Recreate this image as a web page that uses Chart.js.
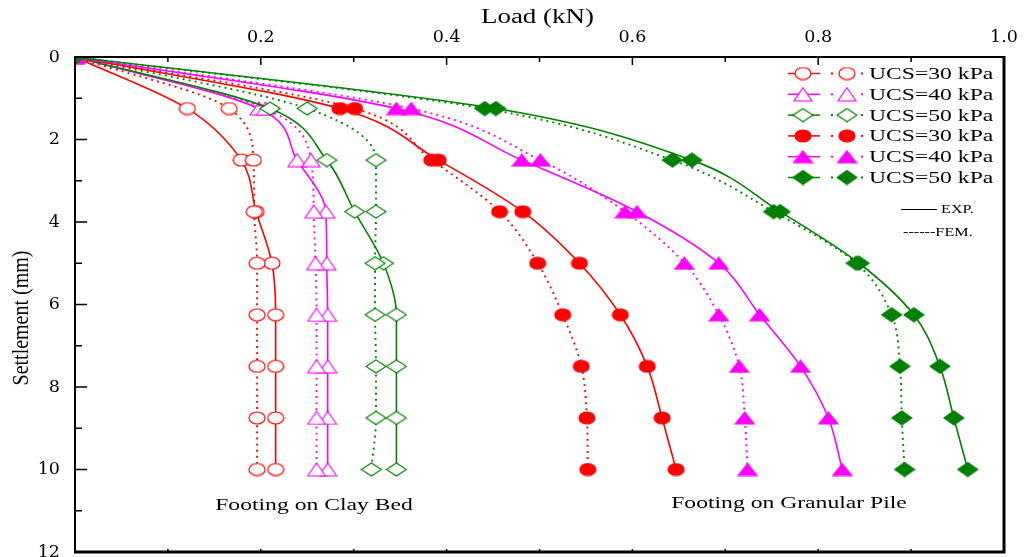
<!DOCTYPE html>
<html>
<head>
<meta charset="utf-8">
<script src="https://cdn.jsdelivr.net/npm/chart.js@4.4.1/dist/chart.umd.min.js"></script>
<style>
  html, body { margin: 0; padding: 0; background: #fff; }
  canvas { display: block; }
</style>
</head>
<body>
<canvas id="grafico" width="1027" height="557"></canvas>
<script>
// settlement levels (mm) where load was read
const settlement = [0, 1.25, 2.5, 3.75, 5, 6.25, 7.5, 8.75, 10];

// load (kN) - footing on clay bed
const clay30Exp = [0, 0.121, 0.179, 0.195, 0.212, 0.216, 0.216, 0.216, 0.216];
const clay30Fem = [0, 0.166, 0.192, 0.193, 0.196, 0.196, 0.196, 0.196, 0.196];
const clay40Exp = [0, 0.198, 0.239, 0.27, 0.271, 0.272, 0.272, 0.272, 0.272];
const clay40Fem = [0, 0.205, 0.254, 0.257, 0.259, 0.26, 0.26, 0.26, 0.26];
const clay50Exp = [0, 0.21, 0.271, 0.301, 0.332, 0.346, 0.346, 0.346, 0.346];
const clay50Fem = [0, 0.25, 0.324, 0.324, 0.323, 0.323, 0.324, 0.324, 0.319];

// load (kN) - footing on granular pile
const pile30Exp = [0, 0.285, 0.391, 0.482, 0.543, 0.587, 0.616, 0.632, 0.647];
const pile30Fem = [0, 0.301, 0.384, 0.457, 0.498, 0.525, 0.545, 0.551, 0.552];
const pile40Exp = [0, 0.346, 0.481, 0.605, 0.693, 0.737, 0.781, 0.811, 0.826];
const pile40Fem = [0, 0.362, 0.501, 0.592, 0.656, 0.693, 0.715, 0.721, 0.724];
const pile50Exp = [0, 0.453, 0.664, 0.759, 0.844, 0.903, 0.931, 0.946, 0.961];
const pile50Fem = [0, 0.441, 0.643, 0.752, 0.841, 0.879, 0.888, 0.89, 0.893];

const loadTicks = [0.2, 0.4, 0.6, 0.8, 1.0];
const settlementTicks = [0, 2, 4, 6, 8, 10, 12];
const legendLabels = ["UCS=30 kPa", "UCS=40 kPa", "UCS=50 kPa", "UCS=30 kPa", "UCS=40 kPa", "UCS=50 kPa"];
const bedLabels = ["Footing on Clay Bed", "Footing on Granular Pile"];

const VERMELHO = "#ff0000";
const MAGENTA = "#ff00ff";
const VERDE = "#008000";
const ESTICA = 1.35; // the original text is wider than plain Times

function criarMarcador(forma, cor, cheio, w, h) {
  const c = document.createElement("canvas");
  c.width = w + 2;
  c.height = h + 2;
  const g = c.getContext("2d");
  const cx = c.width / 2;
  const cy = c.height / 2;
  g.beginPath();
  if (forma === "circle") {
    g.ellipse(cx, cy, w / 2, h / 2, 0, 0, Math.PI * 2);
  } else if (forma === "triangle") {
    g.moveTo(cx, cy - h / 2);
    g.lineTo(cx + w / 2, cy + h / 2);
    g.lineTo(cx - w / 2, cy + h / 2);
    g.closePath();
  } else {
    g.moveTo(cx, cy - h / 2);
    g.lineTo(cx + w / 2, cy);
    g.lineTo(cx, cy + h / 2);
    g.lineTo(cx - w / 2, cy);
    g.closePath();
  }
  g.fillStyle = cheio ? cor : "#fff";
  g.fill();
  g.lineWidth = 1.2;
  g.strokeStyle = cor;
  g.stroke();
  return c;
}

const grupos = [
  { exp: clay30Exp, fem: clay30Fem, cor: VERMELHO, marcador: criarMarcador("circle", VERMELHO, false, 16, 12) },
  { exp: clay40Exp, fem: clay40Fem, cor: MAGENTA, marcador: criarMarcador("triangle", MAGENTA, false, 18, 13) },
  { exp: clay50Exp, fem: clay50Fem, cor: VERDE, marcador: criarMarcador("diamond", VERDE, false, 20, 13) },
  { exp: pile30Exp, fem: pile30Fem, cor: VERMELHO, marcador: criarMarcador("circle", VERMELHO, true, 16, 12) },
  { exp: pile40Exp, fem: pile40Fem, cor: MAGENTA, marcador: criarMarcador("triangle", MAGENTA, true, 19, 12) },
  { exp: pile50Exp, fem: pile50Fem, cor: VERDE, marcador: criarMarcador("diamond", VERDE, true, 20, 14) },
];

const datasets = [];
grupos.forEach((g, i) => {
  [["EXP.", g.exp], ["FEM.", g.fem]].forEach(([tipo, valores]) => {
    const fem = tipo === "FEM.";
    datasets.push({
      label: legendLabels[i] + " " + tipo,
      data: valores.map((v, k) => ({ x: v, y: settlement[k] })),
      borderColor: g.cor,
      backgroundColor: g.cor,
      borderWidth: fem ? 1.9 : 1.6,
      borderDash: fem ? [1.9, 4.2] : [],
      cubicInterpolationMode: "monotone",
      pointStyle: g.marcador,
      pointRadius: 8,
      pointHoverRadius: 8,
      fill: false,
      order: 20 - datasets.length, // later series drawn on top
    });
  });
});

function textoEsticado(ctx, txt, x, y, tamanho, alinhamento, base) {
  ctx.save();
  ctx.translate(x, y);
  ctx.scale(ESTICA, 1);
  ctx.font = tamanho + "px 'Liberation Serif', serif";
  ctx.fillStyle = "#000";
  ctx.textAlign = alinhamento;
  ctx.textBaseline = base;
  ctx.fillText(txt, 0, 0);
  ctx.restore();
}

const moldura = {
  id: "moldura",
  afterDraw(chart) {
    const ctx = chart.ctx;
    const a = chart.chartArea;
    const sx = chart.scales.x;
    const sy = chart.scales.y;

    ctx.save();
    ctx.strokeStyle = "#000";
    ctx.lineCap = "butt";

    // frame
    ctx.lineWidth = 2;
    ctx.beginPath();
    ctx.moveTo(a.left, a.bottom + 1);
    ctx.lineTo(a.left, a.top);
    ctx.lineTo(a.right, a.top);
    ctx.stroke();
    ctx.lineWidth = 3;
    ctx.beginPath();
    ctx.moveTo(a.right, a.top - 1);
    ctx.lineTo(a.right, a.bottom);
    ctx.lineTo(a.left - 1, a.bottom);
    ctx.stroke();

    // inward ticks
    ctx.lineWidth = 1.5;
    ctx.beginPath();
    sx.ticks.forEach((t) => {
      if (t.value <= 0 || t.value >= 1) return;
      const px = sx.getPixelForValue(t.value);
      const maior = loadTicks.some((v) => Math.abs(v - t.value) < 1e-6);
      ctx.moveTo(px, a.top);
      ctx.lineTo(px, a.top + (maior ? 8 : 5));
      ctx.moveTo(px, a.bottom);
      ctx.lineTo(px, a.bottom - 3);
    });
    sy.ticks.forEach((t) => {
      if (t.value <= 0 || t.value >= 12) return;
      const py = sy.getPixelForValue(t.value);
      const maior = settlementTicks.includes(t.value);
      ctx.moveTo(a.left, py);
      ctx.lineTo(a.left + (maior ? 12 : 7), py);
    });
    ctx.stroke();

    // axis titles
    textoEsticado(ctx, "Load (kN)", (a.left + a.right) / 2 - 2, 23, 20, "center", "alphabetic");
    ctx.save();
    ctx.translate(22, 318);
    ctx.scale(1.2, 1);
    ctx.rotate(-Math.PI / 2);
    ctx.font = "20px 'Liberation Serif', serif";
    ctx.fillStyle = "#000";
    ctx.textAlign = "center";
    ctx.textBaseline = "middle";
    ctx.fillText("Settlement (mm)", 0, 0);
    ctx.restore();

    // legend
    grupos.forEach((g, i) => {
      const y = 73.5 + i * 20.8;
      ctx.strokeStyle = g.cor;
      ctx.lineWidth = 1.5;
      ctx.setLineDash([]);
      ctx.beginPath();
      ctx.moveTo(788, y);
      ctx.lineTo(820, y);
      ctx.stroke();
      ctx.drawImage(g.marcador, 803 - g.marcador.width / 2, y - g.marcador.height / 2);
      ctx.fillStyle = g.cor;
      ctx.fillRect(831, y - 1, 2, 2);
      ctx.fillRect(861, y - 1, 2, 2);
      ctx.drawImage(g.marcador, 847 - g.marcador.width / 2, y - g.marcador.height / 2);
      textoEsticado(ctx, legendLabels[i], 869, y + 1, 17.5, "left", "middle");
    });
    ctx.strokeStyle = "#000";
    ctx.lineWidth = 1;
    ctx.beginPath();
    ctx.moveTo(901, 209.5);
    ctx.lineTo(937, 209.5);
    ctx.stroke();
    textoEsticado(ctx, "EXP.", 941, 210, 12, "left", "middle");
    textoEsticado(ctx, "------FEM.", 903, 233, 12, "left", "middle");

    // bed labels
    textoEsticado(ctx, bedLabels[0], 314, 510, 17.5, "center", "alphabetic");
    textoEsticado(ctx, bedLabels[1], 789, 507.5, 17.5, "center", "alphabetic");
    ctx.restore();
  },
};

Chart.defaults.font.family = "'DejaVu Serif', serif";
Chart.defaults.color = "#000";

function semSobra(s) {
  s.paddingTop = 0;
  s.paddingBottom = 0;
  s.paddingLeft = 0;
  s.paddingRight = 0;
}

const ctx = document.getElementById("grafico").getContext("2d");
new Chart(ctx, {
  type: "line",
  data: { datasets },
  options: {
    indexAxis: "y",
    responsive: false,
    animation: false,
    events: [],
    layout: { autoPadding: false, padding: { left: 0, top: 0, right: 23, bottom: 5 } },
    plugins: {
      legend: { display: false },
      tooltip: { enabled: false },
    },
    scales: {
      x: {
        type: "linear",
        position: "top",
        min: 0,
        max: 1,
        grid: { display: false, drawTicks: false },
        border: { display: false },
        ticks: {
          stepSize: 0.1,
          padding: 9,
          autoSkip: false,
          maxRotation: 0,
          font: { size: 17.5 },
          callback: (v) => (loadTicks.some((t) => Math.abs(t - v) < 1e-6) ? v.toFixed(1) : ""),
        },
        afterFit: (s) => {
          s.height = 57;
          semSobra(s);
        },
      },
      y: {
        type: "linear",
        reverse: true,
        min: 0,
        max: 12,
        grid: { display: false, drawTicks: false },
        border: { display: false },
        ticks: {
          stepSize: 1,
          padding: 15,
          autoSkip: false,
          font: { size: 17.5 },
          callback: (v) => (settlementTicks.includes(v) ? String(v) : ""),
        },
        afterFit: (s) => {
          s.width = 75;
          semSobra(s);
        },
      },
    },
  },
  plugins: [moldura],
});
</script>
</body>
</html>
